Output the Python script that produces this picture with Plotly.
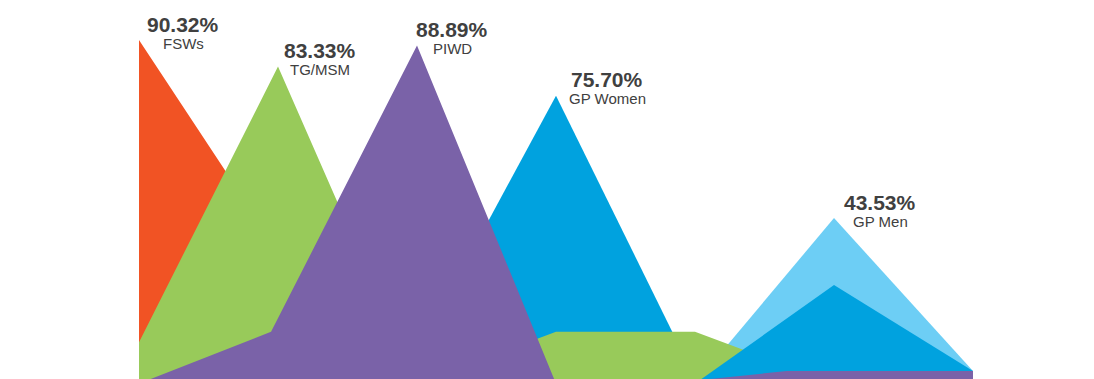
import plotly.graph_objects as go

# Peak labels and values
names = ["FSWs", "TG/MSM", "PIWD", "GP Women", "GP Men"]
peaks = [90.32, 83.33, 88.89, 75.70, 43.53]
peak_x = [0, 1, 2, 3, 5]

# Series (x in category steps, y in %)
fsw_x = [0, 1, 2]
fsw_y = [peaks[0], 35.0, 0.0]

men_x = [4, 5, 6]
men_y = [0.0, peaks[4], 3.3]

women1_x = [2, 3, 4]
women1_y = [8.0, peaks[3], 1.5]

tg_x = [0, 1, 2, 3, 4, 5, 6]
tg_y = [10.9, peaks[1], 0.0, 13.6, 13.6, 0.0, 0.0]

women2_x = [4, 5, 6]
women2_y = [0.0, 25.9, 3.3]

piwd_x = [0, 0.95, 2, 3, 3.79, 4.66, 6]
piwd_y = [0.0, 13.6, peaks[2], 0.0, 0.0, 3.3, 3.3]

ORANGE = "#F15324"
GREEN = "#98CA5A"
PURPLE = "#7A62A8"
BLUE = "#00A2DF"
LIGHT = "#6DCEF5"

fig = go.Figure()
layers = [
    (fsw_x, fsw_y, ORANGE),
    (men_x, men_y, LIGHT),
    (women1_x, women1_y, BLUE),
    (tg_x, tg_y, GREEN),
    (women2_x, women2_y, BLUE),
    (piwd_x, piwd_y, PURPLE),
]
for xs, ys, c in layers:
    fig.add_trace(go.Scatter(x=xs, y=ys, mode="lines", fill="tozeroy",
                             fillcolor=c, line=dict(width=0, color=c),
                             hoverinfo="skip", showlegend=False))

label_dx = [44, 42, 35, 51, 46]
TXT = "#404040"
FONT = "Arial, Liberation Sans, sans-serif"
for n, v, px, dx in zip(names, peaks, peak_x, label_dx):
    fig.add_annotation(x=px, y=v, xref="x", yref="y", text=f"<b>{v:.2f}%</b>",
                       showarrow=False, xshift=dx, yshift=16, yanchor="middle",
                       font=dict(family=FONT, size=21, color=TXT))
    fig.add_annotation(x=px, y=v, xref="x", yref="y", text=n,
                       showarrow=False, xshift=dx, yshift=-3, yanchor="middle",
                       font=dict(family=FONT, size=15, color=TXT))

# page body has an 8px margin; compensate so the plot lands where intended
fig.update_layout(
    width=1078, height=371,
    margin=dict(l=131, r=113, t=0, b=0),
    paper_bgcolor="white", plot_bgcolor="white",
    xaxis=dict(range=[0, 6], visible=False, fixedrange=True),
    yaxis=dict(range=[1.21, 98.74], visible=False, fixedrange=True),
)
fig.write_html("out.html")
